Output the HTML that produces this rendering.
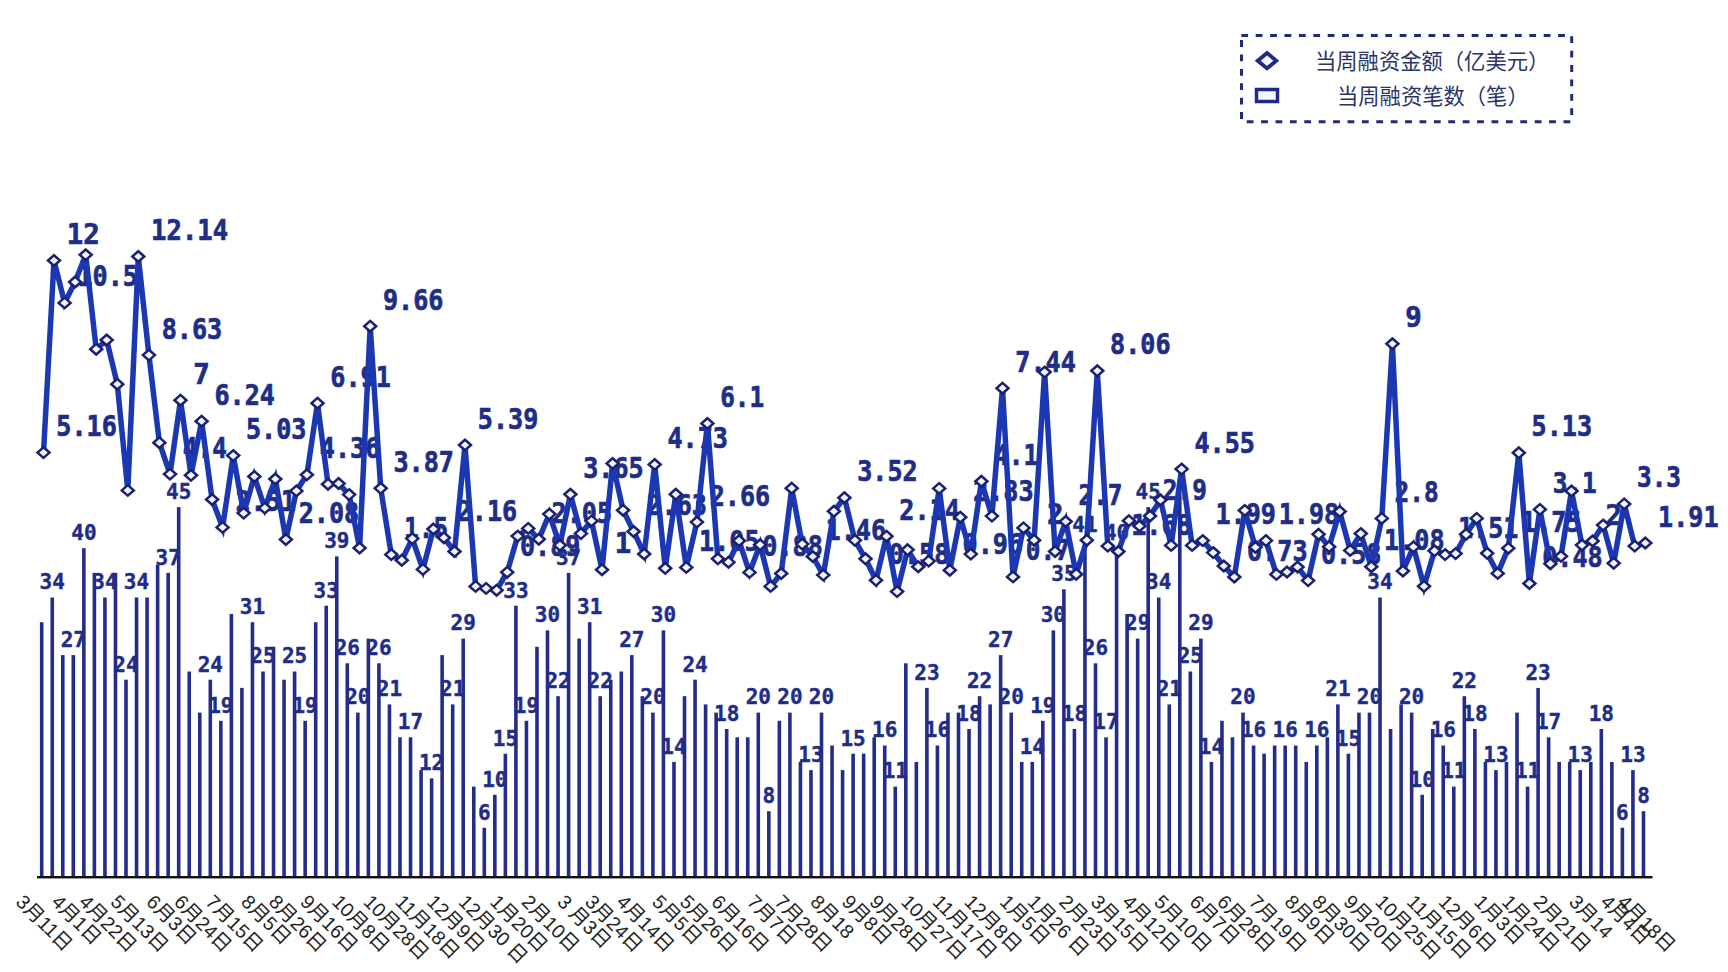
<!DOCTYPE html>
<html lang="zh-CN"><head><meta charset="utf-8"><title>当周融资金额与笔数</title>
<style>
html,body{margin:0;padding:0;background:#fff;}
body{width:1728px;height:972px;overflow:hidden;}
svg{display:block;}
.bl{font-family:"DejaVu Sans Mono","Liberation Mono",monospace;font-weight:bold;font-size:21px;fill:#1e2d88;stroke:#1e2d88;stroke-width:0.4px;text-anchor:middle;}
.ll{font-family:"DejaVu Sans Mono","Liberation Mono",monospace;font-weight:bold;font-size:28px;fill:#1e2d88;stroke:#1e2d88;stroke-width:0.7px;}
.dt{font-family:"Liberation Sans","Noto Sans CJK SC",sans-serif;font-size:19.5px;fill:#222;}
.lg{font-family:"Liberation Sans","Noto Sans CJK SC",sans-serif;font-size:21.3px;fill:#2b3468;}
</style></head><body>
<svg width="1728" height="972" viewBox="0 0 1728 972">
<rect x="0" y="0" width="1728" height="972" fill="#fff"/>
<g id="legend">
<g stroke="#1e2a7c" stroke-width="3" stroke-dasharray="6.8 7.6" fill="none"><line x1="1241.3" y1="35.5" x2="1572" y2="35.5"/><line x1="1571.7" y1="36.3" x2="1571.7" y2="122"/><line x1="1246.7" y1="121.7" x2="1572" y2="121.7"/><line x1="1241.5" y1="40.1" x2="1241.5" y2="122"/></g>
<path d="M1267 53 L1276.3 60.7 L1267 68.4 L1257.7 60.7 Z" fill="#f4f8ff" stroke="#1e2a84" stroke-width="3.8"/>
<rect x="1256.5" y="89.5" width="21" height="12" fill="#f4f8ff" stroke="#1e2a84" stroke-width="3.5"/>
<text class="lg" x="1315" y="69">当周融资金额（亿美元）</text>
<text class="lg" x="1337" y="104">当周融资笔数（笔）</text>
</g>
<g id="barlabels">
<text class="bl" x="52.2" y="589.3">34</text>
<text class="bl" x="73.3" y="646.9">27</text>
<text class="bl" x="83.9" y="540.0">40</text>
<text class="bl" x="104.9" y="589.3">34</text>
<text class="bl" x="126.0" y="671.5">24</text>
<text class="bl" x="136.5" y="589.3">34</text>
<text class="bl" x="168.2" y="564.7">37</text>
<text class="bl" x="178.7" y="498.9">45</text>
<text class="bl" x="210.3" y="671.5">24</text>
<text class="bl" x="220.8" y="712.6">19</text>
<text class="bl" x="252.5" y="614.0">31</text>
<text class="bl" x="263.0" y="663.3">25</text>
<text class="bl" x="294.6" y="663.3">25</text>
<text class="bl" x="305.1" y="712.6">19</text>
<text class="bl" x="326.2" y="597.5">33</text>
<text class="bl" x="336.8" y="548.2">39</text>
<text class="bl" x="347.3" y="655.1">26</text>
<text class="bl" x="357.8" y="704.4">20</text>
<text class="bl" x="378.9" y="655.1">26</text>
<text class="bl" x="389.5" y="696.2">21</text>
<text class="bl" x="410.5" y="729.1">17</text>
<text class="bl" x="431.6" y="770.2">12</text>
<text class="bl" x="452.7" y="696.2">21</text>
<text class="bl" x="463.2" y="630.4">29</text>
<text class="bl" x="484.3" y="819.5">6</text>
<text class="bl" x="494.8" y="786.6">10</text>
<text class="bl" x="505.4" y="745.5">15</text>
<text class="bl" x="515.9" y="597.5">33</text>
<text class="bl" x="526.4" y="712.6">19</text>
<text class="bl" x="547.5" y="622.2">30</text>
<text class="bl" x="558.1" y="688.0">22</text>
<text class="bl" x="568.6" y="564.7">37</text>
<text class="bl" x="589.7" y="614.0">31</text>
<text class="bl" x="600.2" y="688.0">22</text>
<text class="bl" x="631.8" y="646.9">27</text>
<text class="bl" x="652.9" y="704.4">20</text>
<text class="bl" x="663.4" y="622.2">30</text>
<text class="bl" x="674.0" y="753.7">14</text>
<text class="bl" x="695.1" y="671.5">24</text>
<text class="bl" x="726.7" y="720.8">18</text>
<text class="bl" x="758.3" y="704.4">20</text>
<text class="bl" x="768.8" y="803.0">8</text>
<text class="bl" x="789.9" y="704.4">20</text>
<text class="bl" x="811.0" y="761.9">13</text>
<text class="bl" x="821.5" y="704.4">20</text>
<text class="bl" x="853.1" y="745.5">15</text>
<text class="bl" x="884.7" y="737.3">16</text>
<text class="bl" x="895.3" y="778.4">11</text>
<text class="bl" x="926.9" y="679.7">23</text>
<text class="bl" x="937.4" y="737.3">16</text>
<text class="bl" x="969.0" y="720.8">18</text>
<text class="bl" x="979.6" y="688.0">22</text>
<text class="bl" x="1000.7" y="646.9">27</text>
<text class="bl" x="1011.2" y="704.4">20</text>
<text class="bl" x="1032.3" y="753.7">14</text>
<text class="bl" x="1042.8" y="712.6">19</text>
<text class="bl" x="1053.3" y="622.2">30</text>
<text class="bl" x="1063.9" y="581.1">35</text>
<text class="bl" x="1074.4" y="720.8">18</text>
<text class="bl" x="1085.0" y="531.8">41</text>
<text class="bl" x="1095.5" y="655.1">26</text>
<text class="bl" x="1106.0" y="729.1">17</text>
<text class="bl" x="1116.6" y="540.0">40</text>
<text class="bl" x="1137.7" y="630.4">29</text>
<text class="bl" x="1148.2" y="498.9">45</text>
<text class="bl" x="1158.7" y="589.3">34</text>
<text class="bl" x="1169.3" y="696.2">21</text>
<text class="bl" x="1190.3" y="663.3">25</text>
<text class="bl" x="1200.9" y="630.4">29</text>
<text class="bl" x="1211.4" y="753.7">14</text>
<text class="bl" x="1243.0" y="704.4">20</text>
<text class="bl" x="1253.6" y="737.3">16</text>
<text class="bl" x="1285.2" y="737.3">16</text>
<text class="bl" x="1316.8" y="737.3">16</text>
<text class="bl" x="1337.9" y="696.2">21</text>
<text class="bl" x="1348.4" y="745.5">15</text>
<text class="bl" x="1369.5" y="704.4">20</text>
<text class="bl" x="1380.0" y="589.3">34</text>
<text class="bl" x="1411.6" y="704.4">20</text>
<text class="bl" x="1422.2" y="786.6">10</text>
<text class="bl" x="1443.3" y="737.3">16</text>
<text class="bl" x="1453.8" y="778.4">11</text>
<text class="bl" x="1464.3" y="688.0">22</text>
<text class="bl" x="1474.9" y="720.8">18</text>
<text class="bl" x="1495.9" y="761.9">13</text>
<text class="bl" x="1527.6" y="778.4">11</text>
<text class="bl" x="1538.1" y="679.7">23</text>
<text class="bl" x="1548.6" y="729.1">17</text>
<text class="bl" x="1580.2" y="761.9">13</text>
<text class="bl" x="1601.3" y="720.8">18</text>
<text class="bl" x="1622.4" y="819.5">6</text>
<text class="bl" x="1632.9" y="761.9">13</text>
<text class="bl" x="1643.5" y="803.0">8</text>
</g>
<g id="linelabels">
<text class="ll" x="56.3" y="436.1" textLength="60.5" lengthAdjust="spacingAndGlyphs">5.16</text>
<text class="ll" x="66.8" y="244.0" textLength="33.0" lengthAdjust="spacingAndGlyphs">12</text>
<text class="ll" x="77.4" y="286.4" textLength="60.5" lengthAdjust="spacingAndGlyphs">10.5</text>
<text class="ll" x="151.1" y="240.0" textLength="77.0" lengthAdjust="spacingAndGlyphs">12.14</text>
<text class="ll" x="161.7" y="338.6" textLength="60.5" lengthAdjust="spacingAndGlyphs">8.63</text>
<text class="ll" x="193.3" y="383.7" textLength="16.5" lengthAdjust="spacingAndGlyphs">7</text>
<text class="ll" x="182.8" y="457.6" textLength="44.0" lengthAdjust="spacingAndGlyphs">4.4</text>
<text class="ll" x="214.4" y="404.7" textLength="60.5" lengthAdjust="spacingAndGlyphs">6.24</text>
<text class="ll" x="246.0" y="439.1" textLength="60.5" lengthAdjust="spacingAndGlyphs">5.03</text>
<text class="ll" x="235.4" y="510.9" textLength="60.5" lengthAdjust="spacingAndGlyphs">2.51</text>
<text class="ll" x="319.8" y="458.3" textLength="60.5" lengthAdjust="spacingAndGlyphs">4.36</text>
<text class="ll" x="330.3" y="386.7" textLength="60.5" lengthAdjust="spacingAndGlyphs">6.91</text>
<text class="ll" x="298.7" y="523.0" textLength="60.5" lengthAdjust="spacingAndGlyphs">2.08</text>
<text class="ll" x="383.0" y="309.7" textLength="60.5" lengthAdjust="spacingAndGlyphs">9.66</text>
<text class="ll" x="393.5" y="471.8" textLength="60.5" lengthAdjust="spacingAndGlyphs">3.87</text>
<text class="ll" x="404.1" y="538.1" textLength="44.0" lengthAdjust="spacingAndGlyphs">1.5</text>
<text class="ll" x="477.8" y="428.5" textLength="60.5" lengthAdjust="spacingAndGlyphs">5.39</text>
<text class="ll" x="456.7" y="521.2" textLength="60.5" lengthAdjust="spacingAndGlyphs">2.16</text>
<text class="ll" x="520.0" y="555.7" textLength="60.5" lengthAdjust="spacingAndGlyphs">0.89</text>
<text class="ll" x="551.6" y="522.7" textLength="60.5" lengthAdjust="spacingAndGlyphs">2.05</text>
<text class="ll" x="583.2" y="477.8" textLength="60.5" lengthAdjust="spacingAndGlyphs">3.65</text>
<text class="ll" x="614.8" y="553.2" textLength="16.5" lengthAdjust="spacingAndGlyphs">1</text>
<text class="ll" x="667.5" y="448.0" textLength="60.5" lengthAdjust="spacingAndGlyphs">4.73</text>
<text class="ll" x="646.4" y="515.0" textLength="60.5" lengthAdjust="spacingAndGlyphs">2.63</text>
<text class="ll" x="720.2" y="407.0" textLength="44.0" lengthAdjust="spacingAndGlyphs">6.1</text>
<text class="ll" x="709.7" y="505.6" textLength="60.5" lengthAdjust="spacingAndGlyphs">2.66</text>
<text class="ll" x="699.1" y="550.9" textLength="60.5" lengthAdjust="spacingAndGlyphs">1.05</text>
<text class="ll" x="762.3" y="555.9" textLength="60.5" lengthAdjust="spacingAndGlyphs">0.88</text>
<text class="ll" x="857.2" y="481.2" textLength="60.5" lengthAdjust="spacingAndGlyphs">3.52</text>
<text class="ll" x="825.6" y="540.0" textLength="60.5" lengthAdjust="spacingAndGlyphs">1.46</text>
<text class="ll" x="899.3" y="519.7" textLength="60.5" lengthAdjust="spacingAndGlyphs">2.14</text>
<text class="ll" x="888.8" y="563.8" textLength="60.5" lengthAdjust="spacingAndGlyphs">0.58</text>
<text class="ll" x="994.2" y="464.8" textLength="44.0" lengthAdjust="spacingAndGlyphs">4.1</text>
<text class="ll" x="973.1" y="500.7" textLength="60.5" lengthAdjust="spacingAndGlyphs">2.83</text>
<text class="ll" x="962.6" y="553.7" textLength="60.5" lengthAdjust="spacingAndGlyphs">0.96</text>
<text class="ll" x="1015.3" y="371.7" textLength="60.5" lengthAdjust="spacingAndGlyphs">7.44</text>
<text class="ll" x="1025.8" y="560.4" textLength="44.0" lengthAdjust="spacingAndGlyphs">0.7</text>
<text class="ll" x="1046.9" y="523.7" textLength="16.5" lengthAdjust="spacingAndGlyphs">2</text>
<text class="ll" x="1078.5" y="505.0" textLength="44.0" lengthAdjust="spacingAndGlyphs">2.7</text>
<text class="ll" x="1110.1" y="354.3" textLength="60.5" lengthAdjust="spacingAndGlyphs">8.06</text>
<text class="ll" x="1194.4" y="452.6" textLength="60.5" lengthAdjust="spacingAndGlyphs">4.55</text>
<text class="ll" x="1162.8" y="499.5" textLength="44.0" lengthAdjust="spacingAndGlyphs">2.9</text>
<text class="ll" x="1131.2" y="535.0" textLength="60.5" lengthAdjust="spacingAndGlyphs">1.68</text>
<text class="ll" x="1215.5" y="524.1" textLength="60.5" lengthAdjust="spacingAndGlyphs">1.99</text>
<text class="ll" x="1278.7" y="524.1" textLength="60.5" lengthAdjust="spacingAndGlyphs">1.98</text>
<text class="ll" x="1247.1" y="560.5" textLength="60.5" lengthAdjust="spacingAndGlyphs">0.73</text>
<text class="ll" x="1320.9" y="564.1" textLength="60.5" lengthAdjust="spacingAndGlyphs">0.58</text>
<text class="ll" x="1405.2" y="327.3" textLength="16.5" lengthAdjust="spacingAndGlyphs">9</text>
<text class="ll" x="1394.6" y="501.9" textLength="44.0" lengthAdjust="spacingAndGlyphs">2.8</text>
<text class="ll" x="1384.1" y="550.2" textLength="60.5" lengthAdjust="spacingAndGlyphs">1.08</text>
<text class="ll" x="1457.9" y="538.1" textLength="60.5" lengthAdjust="spacingAndGlyphs">1.51</text>
<text class="ll" x="1531.6" y="436.3" textLength="60.5" lengthAdjust="spacingAndGlyphs">5.13</text>
<text class="ll" x="1552.7" y="492.9" textLength="44.0" lengthAdjust="spacingAndGlyphs">3.1</text>
<text class="ll" x="1521.1" y="531.7" textLength="60.5" lengthAdjust="spacingAndGlyphs">1.75</text>
<text class="ll" x="1542.2" y="567.0" textLength="60.5" lengthAdjust="spacingAndGlyphs">0.48</text>
<text class="ll" x="1605.4" y="524.5" textLength="16.5" lengthAdjust="spacingAndGlyphs">2</text>
<text class="ll" x="1637.0" y="487.4" textLength="44.0" lengthAdjust="spacingAndGlyphs">3.3</text>
<text class="ll" x="1658.1" y="526.5" textLength="60.5" lengthAdjust="spacingAndGlyphs">1.91</text>
</g>
<g id="bars" fill="#232c88">
<rect x="39.90" y="622.2" width="3.6" height="254.8"/>
<rect x="50.44" y="597.5" width="3.6" height="279.5"/>
<rect x="60.98" y="655.1" width="3.6" height="221.9"/>
<rect x="71.51" y="655.1" width="3.6" height="221.9"/>
<rect x="82.05" y="548.2" width="3.6" height="328.8"/>
<rect x="92.59" y="572.9" width="3.6" height="304.1"/>
<rect x="103.13" y="597.5" width="3.6" height="279.5"/>
<rect x="113.67" y="572.9" width="3.6" height="304.1"/>
<rect x="124.20" y="679.7" width="3.6" height="197.3"/>
<rect x="134.74" y="597.5" width="3.6" height="279.5"/>
<rect x="145.28" y="597.5" width="3.6" height="279.5"/>
<rect x="155.82" y="564.6" width="3.6" height="312.4"/>
<rect x="166.36" y="572.9" width="3.6" height="304.1"/>
<rect x="176.89" y="507.1" width="3.6" height="369.9"/>
<rect x="187.43" y="671.5" width="3.6" height="205.5"/>
<rect x="197.97" y="712.6" width="3.6" height="164.4"/>
<rect x="208.51" y="679.7" width="3.6" height="197.3"/>
<rect x="219.05" y="720.8" width="3.6" height="156.2"/>
<rect x="229.58" y="614.0" width="3.6" height="263.0"/>
<rect x="240.12" y="687.9" width="3.6" height="189.1"/>
<rect x="250.66" y="622.2" width="3.6" height="254.8"/>
<rect x="261.20" y="671.5" width="3.6" height="205.5"/>
<rect x="271.74" y="646.8" width="3.6" height="230.2"/>
<rect x="282.27" y="679.7" width="3.6" height="197.3"/>
<rect x="292.81" y="671.5" width="3.6" height="205.5"/>
<rect x="303.35" y="720.8" width="3.6" height="156.2"/>
<rect x="313.89" y="622.2" width="3.6" height="254.8"/>
<rect x="324.43" y="605.7" width="3.6" height="271.3"/>
<rect x="334.96" y="556.4" width="3.6" height="320.6"/>
<rect x="345.50" y="663.3" width="3.6" height="213.7"/>
<rect x="356.04" y="712.6" width="3.6" height="164.4"/>
<rect x="366.58" y="638.6" width="3.6" height="238.4"/>
<rect x="377.12" y="663.3" width="3.6" height="213.7"/>
<rect x="387.65" y="704.4" width="3.6" height="172.6"/>
<rect x="398.19" y="737.3" width="3.6" height="139.7"/>
<rect x="408.73" y="737.3" width="3.6" height="139.7"/>
<rect x="419.27" y="770.1" width="3.6" height="106.9"/>
<rect x="429.81" y="778.4" width="3.6" height="98.6"/>
<rect x="440.34" y="655.1" width="3.6" height="221.9"/>
<rect x="450.88" y="704.4" width="3.6" height="172.6"/>
<rect x="461.42" y="638.6" width="3.6" height="238.4"/>
<rect x="471.96" y="786.6" width="3.6" height="90.4"/>
<rect x="482.50" y="827.7" width="3.6" height="49.3"/>
<rect x="493.03" y="794.8" width="3.6" height="82.2"/>
<rect x="503.57" y="753.7" width="3.6" height="123.3"/>
<rect x="514.11" y="605.7" width="3.6" height="271.3"/>
<rect x="524.65" y="720.8" width="3.6" height="156.2"/>
<rect x="535.19" y="646.8" width="3.6" height="230.2"/>
<rect x="545.72" y="630.4" width="3.6" height="246.6"/>
<rect x="556.26" y="696.2" width="3.6" height="180.8"/>
<rect x="566.80" y="572.9" width="3.6" height="304.1"/>
<rect x="577.34" y="638.6" width="3.6" height="238.4"/>
<rect x="587.88" y="622.2" width="3.6" height="254.8"/>
<rect x="598.41" y="696.2" width="3.6" height="180.8"/>
<rect x="608.95" y="679.7" width="3.6" height="197.3"/>
<rect x="619.49" y="671.5" width="3.6" height="205.5"/>
<rect x="630.03" y="655.1" width="3.6" height="221.9"/>
<rect x="640.57" y="696.2" width="3.6" height="180.8"/>
<rect x="651.10" y="712.6" width="3.6" height="164.4"/>
<rect x="661.64" y="630.4" width="3.6" height="246.6"/>
<rect x="672.18" y="761.9" width="3.6" height="115.1"/>
<rect x="682.72" y="696.2" width="3.6" height="180.8"/>
<rect x="693.26" y="679.7" width="3.6" height="197.3"/>
<rect x="703.79" y="704.4" width="3.6" height="172.6"/>
<rect x="714.33" y="712.6" width="3.6" height="164.4"/>
<rect x="724.87" y="729.0" width="3.6" height="148.0"/>
<rect x="735.41" y="737.3" width="3.6" height="139.7"/>
<rect x="745.95" y="737.3" width="3.6" height="139.7"/>
<rect x="756.48" y="712.6" width="3.6" height="164.4"/>
<rect x="767.02" y="811.2" width="3.6" height="65.8"/>
<rect x="777.56" y="720.8" width="3.6" height="156.2"/>
<rect x="788.10" y="712.6" width="3.6" height="164.4"/>
<rect x="798.64" y="761.9" width="3.6" height="115.1"/>
<rect x="809.17" y="770.1" width="3.6" height="106.9"/>
<rect x="819.71" y="712.6" width="3.6" height="164.4"/>
<rect x="830.25" y="745.5" width="3.6" height="131.5"/>
<rect x="840.79" y="770.1" width="3.6" height="106.9"/>
<rect x="851.33" y="753.7" width="3.6" height="123.3"/>
<rect x="861.86" y="753.7" width="3.6" height="123.3"/>
<rect x="872.40" y="737.3" width="3.6" height="139.7"/>
<rect x="882.94" y="745.5" width="3.6" height="131.5"/>
<rect x="893.48" y="786.6" width="3.6" height="90.4"/>
<rect x="904.02" y="663.3" width="3.6" height="213.7"/>
<rect x="914.55" y="761.9" width="3.6" height="115.1"/>
<rect x="925.09" y="687.9" width="3.6" height="189.1"/>
<rect x="935.63" y="745.5" width="3.6" height="131.5"/>
<rect x="946.17" y="712.6" width="3.6" height="164.4"/>
<rect x="956.71" y="712.6" width="3.6" height="164.4"/>
<rect x="967.24" y="729.0" width="3.6" height="148.0"/>
<rect x="977.78" y="696.2" width="3.6" height="180.8"/>
<rect x="988.32" y="704.4" width="3.6" height="172.6"/>
<rect x="998.86" y="655.1" width="3.6" height="221.9"/>
<rect x="1009.40" y="712.6" width="3.6" height="164.4"/>
<rect x="1019.93" y="761.9" width="3.6" height="115.1"/>
<rect x="1030.47" y="761.9" width="3.6" height="115.1"/>
<rect x="1041.01" y="720.8" width="3.6" height="156.2"/>
<rect x="1051.55" y="630.4" width="3.6" height="246.6"/>
<rect x="1062.09" y="589.3" width="3.6" height="287.7"/>
<rect x="1072.62" y="729.0" width="3.6" height="148.0"/>
<rect x="1083.16" y="540.0" width="3.6" height="337.0"/>
<rect x="1093.70" y="663.3" width="3.6" height="213.7"/>
<rect x="1104.24" y="737.3" width="3.6" height="139.7"/>
<rect x="1114.78" y="548.2" width="3.6" height="328.8"/>
<rect x="1125.31" y="614.0" width="3.6" height="263.0"/>
<rect x="1135.85" y="638.6" width="3.6" height="238.4"/>
<rect x="1146.39" y="507.1" width="3.6" height="369.9"/>
<rect x="1156.93" y="597.5" width="3.6" height="279.5"/>
<rect x="1167.47" y="704.4" width="3.6" height="172.6"/>
<rect x="1178.00" y="482.4" width="3.6" height="394.6"/>
<rect x="1188.54" y="671.5" width="3.6" height="205.5"/>
<rect x="1199.08" y="638.6" width="3.6" height="238.4"/>
<rect x="1209.62" y="761.9" width="3.6" height="115.1"/>
<rect x="1220.16" y="720.8" width="3.6" height="156.2"/>
<rect x="1230.69" y="737.3" width="3.6" height="139.7"/>
<rect x="1241.23" y="712.6" width="3.6" height="164.4"/>
<rect x="1251.77" y="745.5" width="3.6" height="131.5"/>
<rect x="1262.31" y="753.7" width="3.6" height="123.3"/>
<rect x="1272.85" y="745.5" width="3.6" height="131.5"/>
<rect x="1283.38" y="745.5" width="3.6" height="131.5"/>
<rect x="1293.92" y="745.5" width="3.6" height="131.5"/>
<rect x="1304.46" y="761.9" width="3.6" height="115.1"/>
<rect x="1315.00" y="745.5" width="3.6" height="131.5"/>
<rect x="1325.54" y="737.3" width="3.6" height="139.7"/>
<rect x="1336.07" y="704.4" width="3.6" height="172.6"/>
<rect x="1346.61" y="753.7" width="3.6" height="123.3"/>
<rect x="1357.15" y="712.6" width="3.6" height="164.4"/>
<rect x="1367.69" y="712.6" width="3.6" height="164.4"/>
<rect x="1378.23" y="597.5" width="3.6" height="279.5"/>
<rect x="1388.76" y="729.0" width="3.6" height="148.0"/>
<rect x="1399.30" y="704.4" width="3.6" height="172.6"/>
<rect x="1409.84" y="712.6" width="3.6" height="164.4"/>
<rect x="1420.38" y="794.8" width="3.6" height="82.2"/>
<rect x="1430.92" y="729.0" width="3.6" height="148.0"/>
<rect x="1441.45" y="745.5" width="3.6" height="131.5"/>
<rect x="1451.99" y="786.6" width="3.6" height="90.4"/>
<rect x="1462.53" y="696.2" width="3.6" height="180.8"/>
<rect x="1473.07" y="729.0" width="3.6" height="148.0"/>
<rect x="1483.61" y="761.9" width="3.6" height="115.1"/>
<rect x="1494.14" y="770.1" width="3.6" height="106.9"/>
<rect x="1504.68" y="761.9" width="3.6" height="115.1"/>
<rect x="1515.22" y="712.6" width="3.6" height="164.4"/>
<rect x="1525.76" y="786.6" width="3.6" height="90.4"/>
<rect x="1536.30" y="687.9" width="3.6" height="189.1"/>
<rect x="1546.83" y="737.3" width="3.6" height="139.7"/>
<rect x="1557.37" y="761.9" width="3.6" height="115.1"/>
<rect x="1567.91" y="761.9" width="3.6" height="115.1"/>
<rect x="1578.45" y="770.1" width="3.6" height="106.9"/>
<rect x="1588.99" y="761.9" width="3.6" height="115.1"/>
<rect x="1599.52" y="729.0" width="3.6" height="148.0"/>
<rect x="1610.06" y="761.9" width="3.6" height="115.1"/>
<rect x="1620.60" y="827.7" width="3.6" height="49.3"/>
<rect x="1631.14" y="770.1" width="3.6" height="106.9"/>
<rect x="1641.68" y="811.2" width="3.6" height="65.8"/>
</g>
<rect x="37" y="876" width="1615.5" height="2.4" fill="#111"/>
<polyline points="43.5,452.6 54.0,260.5 64.6,302.9 75.1,282.0 85.7,254.8 96.2,349.2 106.7,340.0 117.3,384.2 127.8,490.4 138.3,256.5 148.9,355.1 159.4,442.7 170.0,474.1 180.5,400.2 191.0,475.3 201.6,421.2 212.1,499.5 222.6,527.4 233.2,455.6 243.7,513.1 254.3,476.5 264.8,508.1 275.3,479.0 285.9,539.5 296.4,490.9 306.9,474.8 317.5,403.2 328.0,484.2 338.6,483.5 349.1,494.6 359.6,548.0 370.2,326.2 380.7,488.3 391.3,554.6 401.8,560.2 412.3,538.6 422.9,569.4 433.4,529.0 443.9,537.7 454.5,551.5 465.0,445.0 475.6,586.4 486.1,588.4 496.6,590.2 507.2,572.2 517.7,536.1 528.2,528.4 538.8,539.2 549.3,514.1 559.9,545.3 570.4,494.3 580.9,533.6 591.5,520.9 602.0,569.7 612.6,463.5 623.1,510.2 633.6,531.5 644.2,554.0 654.7,464.5 665.2,568.3 675.8,494.3 686.3,567.4 696.9,522.1 707.4,423.5 717.9,558.8 728.5,562.2 739.0,540.7 749.5,572.4 760.1,544.8 770.6,586.4 781.2,573.5 791.7,488.2 802.2,544.1 812.8,556.5 823.3,575.1 833.9,511.3 844.4,497.7 854.9,540.3 865.5,558.8 876.0,580.3 886.5,536.2 897.1,591.6 907.6,549.8 918.2,566.7 928.7,561.1 939.2,488.4 949.8,570.2 960.3,517.2 970.8,554.1 981.4,481.3 991.9,516.1 1002.5,388.2 1013.0,576.9 1023.5,527.9 1034.1,540.2 1044.6,372.1 1055.1,551.5 1065.7,521.5 1076.2,574.2 1086.8,540.2 1097.3,370.8 1107.8,546.1 1118.4,551.5 1128.9,520.7 1139.5,526.0 1150.0,516.0 1160.5,500.0 1171.1,545.4 1181.6,469.1 1192.1,545.4 1202.7,540.6 1213.2,552.6 1223.8,566.0 1234.3,577.0 1244.8,510.4 1255.4,547.3 1265.9,540.6 1276.4,574.4 1287.0,572.0 1297.5,567.0 1308.1,580.6 1318.6,534.3 1329.1,546.7 1339.7,511.5 1350.2,550.4 1360.8,533.6 1371.3,566.7 1381.8,518.4 1392.4,343.8 1402.9,571.0 1413.4,546.9 1424.0,586.3 1434.5,550.8 1445.1,554.6 1455.6,553.6 1466.1,534.3 1476.7,518.4 1487.2,553.3 1497.7,573.4 1508.3,548.2 1518.8,452.8 1529.4,583.5 1539.9,509.4 1550.4,563.7 1561.0,556.3 1571.5,491.0 1582.0,545.1 1592.6,541.0 1603.1,525.1 1613.7,563.2 1624.2,503.9 1634.7,546.1 1645.3,543.0" fill="none" stroke="#1b38b2" stroke-width="5.5" stroke-linejoin="miter" stroke-miterlimit="4"/>
<g id="markers" fill="#f2f7ff" stroke="#1b2170" stroke-width="2.5">
<path d="M43.5 447.3l6.0 5.3l-6.0 5.3l-6.0 -5.3z"/>
<path d="M54.0 255.2l6.0 5.3l-6.0 5.3l-6.0 -5.3z"/>
<path d="M64.6 297.6l6.0 5.3l-6.0 5.3l-6.0 -5.3z"/>
<path d="M75.1 276.7l6.0 5.3l-6.0 5.3l-6.0 -5.3z"/>
<path d="M85.7 249.5l6.0 5.3l-6.0 5.3l-6.0 -5.3z"/>
<path d="M96.2 343.9l6.0 5.3l-6.0 5.3l-6.0 -5.3z"/>
<path d="M106.7 334.7l6.0 5.3l-6.0 5.3l-6.0 -5.3z"/>
<path d="M117.3 378.9l6.0 5.3l-6.0 5.3l-6.0 -5.3z"/>
<path d="M127.8 485.1l6.0 5.3l-6.0 5.3l-6.0 -5.3z"/>
<path d="M138.3 251.2l6.0 5.3l-6.0 5.3l-6.0 -5.3z"/>
<path d="M148.9 349.8l6.0 5.3l-6.0 5.3l-6.0 -5.3z"/>
<path d="M159.4 437.4l6.0 5.3l-6.0 5.3l-6.0 -5.3z"/>
<path d="M170.0 468.8l6.0 5.3l-6.0 5.3l-6.0 -5.3z"/>
<path d="M180.5 394.9l6.0 5.3l-6.0 5.3l-6.0 -5.3z"/>
<path d="M191.0 470.0l6.0 5.3l-6.0 5.3l-6.0 -5.3z"/>
<path d="M201.6 415.9l6.0 5.3l-6.0 5.3l-6.0 -5.3z"/>
<path d="M212.1 494.2l6.0 5.3l-6.0 5.3l-6.0 -5.3z"/>
<path d="M222.6 522.1l6.0 5.3l-6.0 5.3l-6.0 -5.3z"/>
<path d="M233.2 450.3l6.0 5.3l-6.0 5.3l-6.0 -5.3z"/>
<path d="M243.7 507.8l6.0 5.3l-6.0 5.3l-6.0 -5.3z"/>
<path d="M254.3 471.2l6.0 5.3l-6.0 5.3l-6.0 -5.3z"/>
<path d="M264.8 502.8l6.0 5.3l-6.0 5.3l-6.0 -5.3z"/>
<path d="M275.3 473.7l6.0 5.3l-6.0 5.3l-6.0 -5.3z"/>
<path d="M285.9 534.2l6.0 5.3l-6.0 5.3l-6.0 -5.3z"/>
<path d="M296.4 485.6l6.0 5.3l-6.0 5.3l-6.0 -5.3z"/>
<path d="M306.9 469.5l6.0 5.3l-6.0 5.3l-6.0 -5.3z"/>
<path d="M317.5 397.9l6.0 5.3l-6.0 5.3l-6.0 -5.3z"/>
<path d="M328.0 478.9l6.0 5.3l-6.0 5.3l-6.0 -5.3z"/>
<path d="M338.6 478.2l6.0 5.3l-6.0 5.3l-6.0 -5.3z"/>
<path d="M349.1 489.3l6.0 5.3l-6.0 5.3l-6.0 -5.3z"/>
<path d="M359.6 542.7l6.0 5.3l-6.0 5.3l-6.0 -5.3z"/>
<path d="M370.2 320.9l6.0 5.3l-6.0 5.3l-6.0 -5.3z"/>
<path d="M380.7 483.0l6.0 5.3l-6.0 5.3l-6.0 -5.3z"/>
<path d="M391.3 549.3l6.0 5.3l-6.0 5.3l-6.0 -5.3z"/>
<path d="M401.8 554.9l6.0 5.3l-6.0 5.3l-6.0 -5.3z"/>
<path d="M412.3 533.3l6.0 5.3l-6.0 5.3l-6.0 -5.3z"/>
<path d="M422.9 564.1l6.0 5.3l-6.0 5.3l-6.0 -5.3z"/>
<path d="M433.4 523.7l6.0 5.3l-6.0 5.3l-6.0 -5.3z"/>
<path d="M443.9 532.4l6.0 5.3l-6.0 5.3l-6.0 -5.3z"/>
<path d="M454.5 546.2l6.0 5.3l-6.0 5.3l-6.0 -5.3z"/>
<path d="M465.0 439.7l6.0 5.3l-6.0 5.3l-6.0 -5.3z"/>
<path d="M475.6 581.1l6.0 5.3l-6.0 5.3l-6.0 -5.3z"/>
<path d="M486.1 583.1l6.0 5.3l-6.0 5.3l-6.0 -5.3z"/>
<path d="M496.6 584.9l6.0 5.3l-6.0 5.3l-6.0 -5.3z"/>
<path d="M507.2 566.9l6.0 5.3l-6.0 5.3l-6.0 -5.3z"/>
<path d="M517.7 530.8l6.0 5.3l-6.0 5.3l-6.0 -5.3z"/>
<path d="M528.2 523.1l6.0 5.3l-6.0 5.3l-6.0 -5.3z"/>
<path d="M538.8 533.9l6.0 5.3l-6.0 5.3l-6.0 -5.3z"/>
<path d="M549.3 508.8l6.0 5.3l-6.0 5.3l-6.0 -5.3z"/>
<path d="M559.9 540.0l6.0 5.3l-6.0 5.3l-6.0 -5.3z"/>
<path d="M570.4 489.0l6.0 5.3l-6.0 5.3l-6.0 -5.3z"/>
<path d="M580.9 528.3l6.0 5.3l-6.0 5.3l-6.0 -5.3z"/>
<path d="M591.5 515.6l6.0 5.3l-6.0 5.3l-6.0 -5.3z"/>
<path d="M602.0 564.4l6.0 5.3l-6.0 5.3l-6.0 -5.3z"/>
<path d="M612.6 458.2l6.0 5.3l-6.0 5.3l-6.0 -5.3z"/>
<path d="M623.1 504.9l6.0 5.3l-6.0 5.3l-6.0 -5.3z"/>
<path d="M633.6 526.2l6.0 5.3l-6.0 5.3l-6.0 -5.3z"/>
<path d="M644.2 548.7l6.0 5.3l-6.0 5.3l-6.0 -5.3z"/>
<path d="M654.7 459.2l6.0 5.3l-6.0 5.3l-6.0 -5.3z"/>
<path d="M665.2 563.0l6.0 5.3l-6.0 5.3l-6.0 -5.3z"/>
<path d="M675.8 489.0l6.0 5.3l-6.0 5.3l-6.0 -5.3z"/>
<path d="M686.3 562.1l6.0 5.3l-6.0 5.3l-6.0 -5.3z"/>
<path d="M696.9 516.8l6.0 5.3l-6.0 5.3l-6.0 -5.3z"/>
<path d="M707.4 418.2l6.0 5.3l-6.0 5.3l-6.0 -5.3z"/>
<path d="M717.9 553.5l6.0 5.3l-6.0 5.3l-6.0 -5.3z"/>
<path d="M728.5 556.9l6.0 5.3l-6.0 5.3l-6.0 -5.3z"/>
<path d="M739.0 535.4l6.0 5.3l-6.0 5.3l-6.0 -5.3z"/>
<path d="M749.5 567.1l6.0 5.3l-6.0 5.3l-6.0 -5.3z"/>
<path d="M760.1 539.5l6.0 5.3l-6.0 5.3l-6.0 -5.3z"/>
<path d="M770.6 581.1l6.0 5.3l-6.0 5.3l-6.0 -5.3z"/>
<path d="M781.2 568.2l6.0 5.3l-6.0 5.3l-6.0 -5.3z"/>
<path d="M791.7 482.9l6.0 5.3l-6.0 5.3l-6.0 -5.3z"/>
<path d="M802.2 538.8l6.0 5.3l-6.0 5.3l-6.0 -5.3z"/>
<path d="M812.8 551.2l6.0 5.3l-6.0 5.3l-6.0 -5.3z"/>
<path d="M823.3 569.8l6.0 5.3l-6.0 5.3l-6.0 -5.3z"/>
<path d="M833.9 506.0l6.0 5.3l-6.0 5.3l-6.0 -5.3z"/>
<path d="M844.4 492.4l6.0 5.3l-6.0 5.3l-6.0 -5.3z"/>
<path d="M854.9 535.0l6.0 5.3l-6.0 5.3l-6.0 -5.3z"/>
<path d="M865.5 553.5l6.0 5.3l-6.0 5.3l-6.0 -5.3z"/>
<path d="M876.0 575.0l6.0 5.3l-6.0 5.3l-6.0 -5.3z"/>
<path d="M886.5 530.9l6.0 5.3l-6.0 5.3l-6.0 -5.3z"/>
<path d="M897.1 586.3l6.0 5.3l-6.0 5.3l-6.0 -5.3z"/>
<path d="M907.6 544.5l6.0 5.3l-6.0 5.3l-6.0 -5.3z"/>
<path d="M918.2 561.4l6.0 5.3l-6.0 5.3l-6.0 -5.3z"/>
<path d="M928.7 555.8l6.0 5.3l-6.0 5.3l-6.0 -5.3z"/>
<path d="M939.2 483.1l6.0 5.3l-6.0 5.3l-6.0 -5.3z"/>
<path d="M949.8 564.9l6.0 5.3l-6.0 5.3l-6.0 -5.3z"/>
<path d="M960.3 511.9l6.0 5.3l-6.0 5.3l-6.0 -5.3z"/>
<path d="M970.8 548.8l6.0 5.3l-6.0 5.3l-6.0 -5.3z"/>
<path d="M981.4 476.0l6.0 5.3l-6.0 5.3l-6.0 -5.3z"/>
<path d="M991.9 510.8l6.0 5.3l-6.0 5.3l-6.0 -5.3z"/>
<path d="M1002.5 382.9l6.0 5.3l-6.0 5.3l-6.0 -5.3z"/>
<path d="M1013.0 571.6l6.0 5.3l-6.0 5.3l-6.0 -5.3z"/>
<path d="M1023.5 522.6l6.0 5.3l-6.0 5.3l-6.0 -5.3z"/>
<path d="M1034.1 534.9l6.0 5.3l-6.0 5.3l-6.0 -5.3z"/>
<path d="M1044.6 366.8l6.0 5.3l-6.0 5.3l-6.0 -5.3z"/>
<path d="M1055.1 546.2l6.0 5.3l-6.0 5.3l-6.0 -5.3z"/>
<path d="M1065.7 516.2l6.0 5.3l-6.0 5.3l-6.0 -5.3z"/>
<path d="M1076.2 568.9l6.0 5.3l-6.0 5.3l-6.0 -5.3z"/>
<path d="M1086.8 534.9l6.0 5.3l-6.0 5.3l-6.0 -5.3z"/>
<path d="M1097.3 365.5l6.0 5.3l-6.0 5.3l-6.0 -5.3z"/>
<path d="M1107.8 540.8l6.0 5.3l-6.0 5.3l-6.0 -5.3z"/>
<path d="M1118.4 546.2l6.0 5.3l-6.0 5.3l-6.0 -5.3z"/>
<path d="M1128.9 515.4l6.0 5.3l-6.0 5.3l-6.0 -5.3z"/>
<path d="M1139.5 520.7l6.0 5.3l-6.0 5.3l-6.0 -5.3z"/>
<path d="M1150.0 510.7l6.0 5.3l-6.0 5.3l-6.0 -5.3z"/>
<path d="M1160.5 494.7l6.0 5.3l-6.0 5.3l-6.0 -5.3z"/>
<path d="M1171.1 540.1l6.0 5.3l-6.0 5.3l-6.0 -5.3z"/>
<path d="M1181.6 463.8l6.0 5.3l-6.0 5.3l-6.0 -5.3z"/>
<path d="M1192.1 540.1l6.0 5.3l-6.0 5.3l-6.0 -5.3z"/>
<path d="M1202.7 535.3l6.0 5.3l-6.0 5.3l-6.0 -5.3z"/>
<path d="M1213.2 547.3l6.0 5.3l-6.0 5.3l-6.0 -5.3z"/>
<path d="M1223.8 560.7l6.0 5.3l-6.0 5.3l-6.0 -5.3z"/>
<path d="M1234.3 571.7l6.0 5.3l-6.0 5.3l-6.0 -5.3z"/>
<path d="M1244.8 505.1l6.0 5.3l-6.0 5.3l-6.0 -5.3z"/>
<path d="M1255.4 542.0l6.0 5.3l-6.0 5.3l-6.0 -5.3z"/>
<path d="M1265.9 535.3l6.0 5.3l-6.0 5.3l-6.0 -5.3z"/>
<path d="M1276.4 569.1l6.0 5.3l-6.0 5.3l-6.0 -5.3z"/>
<path d="M1287.0 566.7l6.0 5.3l-6.0 5.3l-6.0 -5.3z"/>
<path d="M1297.5 561.7l6.0 5.3l-6.0 5.3l-6.0 -5.3z"/>
<path d="M1308.1 575.3l6.0 5.3l-6.0 5.3l-6.0 -5.3z"/>
<path d="M1318.6 529.0l6.0 5.3l-6.0 5.3l-6.0 -5.3z"/>
<path d="M1329.1 541.4l6.0 5.3l-6.0 5.3l-6.0 -5.3z"/>
<path d="M1339.7 506.2l6.0 5.3l-6.0 5.3l-6.0 -5.3z"/>
<path d="M1350.2 545.1l6.0 5.3l-6.0 5.3l-6.0 -5.3z"/>
<path d="M1360.8 528.3l6.0 5.3l-6.0 5.3l-6.0 -5.3z"/>
<path d="M1371.3 561.4l6.0 5.3l-6.0 5.3l-6.0 -5.3z"/>
<path d="M1381.8 513.1l6.0 5.3l-6.0 5.3l-6.0 -5.3z"/>
<path d="M1392.4 338.5l6.0 5.3l-6.0 5.3l-6.0 -5.3z"/>
<path d="M1402.9 565.7l6.0 5.3l-6.0 5.3l-6.0 -5.3z"/>
<path d="M1413.4 541.6l6.0 5.3l-6.0 5.3l-6.0 -5.3z"/>
<path d="M1424.0 581.0l6.0 5.3l-6.0 5.3l-6.0 -5.3z"/>
<path d="M1434.5 545.5l6.0 5.3l-6.0 5.3l-6.0 -5.3z"/>
<path d="M1445.1 549.3l6.0 5.3l-6.0 5.3l-6.0 -5.3z"/>
<path d="M1455.6 548.3l6.0 5.3l-6.0 5.3l-6.0 -5.3z"/>
<path d="M1466.1 529.0l6.0 5.3l-6.0 5.3l-6.0 -5.3z"/>
<path d="M1476.7 513.1l6.0 5.3l-6.0 5.3l-6.0 -5.3z"/>
<path d="M1487.2 548.0l6.0 5.3l-6.0 5.3l-6.0 -5.3z"/>
<path d="M1497.7 568.1l6.0 5.3l-6.0 5.3l-6.0 -5.3z"/>
<path d="M1508.3 542.9l6.0 5.3l-6.0 5.3l-6.0 -5.3z"/>
<path d="M1518.8 447.5l6.0 5.3l-6.0 5.3l-6.0 -5.3z"/>
<path d="M1529.4 578.2l6.0 5.3l-6.0 5.3l-6.0 -5.3z"/>
<path d="M1539.9 504.1l6.0 5.3l-6.0 5.3l-6.0 -5.3z"/>
<path d="M1550.4 558.4l6.0 5.3l-6.0 5.3l-6.0 -5.3z"/>
<path d="M1561.0 551.0l6.0 5.3l-6.0 5.3l-6.0 -5.3z"/>
<path d="M1571.5 485.7l6.0 5.3l-6.0 5.3l-6.0 -5.3z"/>
<path d="M1582.0 539.8l6.0 5.3l-6.0 5.3l-6.0 -5.3z"/>
<path d="M1592.6 535.7l6.0 5.3l-6.0 5.3l-6.0 -5.3z"/>
<path d="M1603.1 519.8l6.0 5.3l-6.0 5.3l-6.0 -5.3z"/>
<path d="M1613.7 557.9l6.0 5.3l-6.0 5.3l-6.0 -5.3z"/>
<path d="M1624.2 498.6l6.0 5.3l-6.0 5.3l-6.0 -5.3z"/>
<path d="M1634.7 540.8l6.0 5.3l-6.0 5.3l-6.0 -5.3z"/>
<path d="M1645.3 537.7l6.0 5.3l-6.0 5.3l-6.0 -5.3z"/>
</g>
<g id="dates">
<text class="dt" transform="translate(14.8 903.0) rotate(45)">3月11日</text>
<text class="dt" transform="translate(50.4 903.0) rotate(45)">4月1日</text>
<text class="dt" transform="translate(78.0 903.0) rotate(45)">4月22日</text>
<text class="dt" transform="translate(109.6 903.0) rotate(45)">5月13日</text>
<text class="dt" transform="translate(145.3 903.0) rotate(45)">6月3日</text>
<text class="dt" transform="translate(172.9 903.0) rotate(45)">6月24日</text>
<text class="dt" transform="translate(204.5 903.0) rotate(45)">7月15日</text>
<text class="dt" transform="translate(240.1 903.0) rotate(45)">8月5日</text>
<text class="dt" transform="translate(267.7 903.0) rotate(45)">8月26日</text>
<text class="dt" transform="translate(299.3 903.0) rotate(45)">9月16日</text>
<text class="dt" transform="translate(330.9 903.0) rotate(45)">10月8日</text>
<text class="dt" transform="translate(362.6 903.0) rotate(45)">10月28日</text>
<text class="dt" transform="translate(394.2 903.0) rotate(45)">11月18日</text>
<text class="dt" transform="translate(425.8 903.0) rotate(45)">12月9日</text>
<text class="dt" transform="translate(457.4 903.0) rotate(45)">12月30 日</text>
<text class="dt" transform="translate(489.0 903.0) rotate(45)">1月20日</text>
<text class="dt" transform="translate(520.6 903.0) rotate(45)">2月10日</text>
<text class="dt" transform="translate(556.2 903.0) rotate(45)">3 月3日</text>
<text class="dt" transform="translate(583.9 903.0) rotate(45)">3月24日</text>
<text class="dt" transform="translate(615.5 903.0) rotate(45)">4月14日</text>
<text class="dt" transform="translate(651.1 903.0) rotate(45)">5月5日</text>
<text class="dt" transform="translate(678.7 903.0) rotate(45)">5月26日</text>
<text class="dt" transform="translate(710.3 903.0) rotate(45)">6月16日</text>
<text class="dt" transform="translate(745.9 903.0) rotate(45)">7月7日</text>
<text class="dt" transform="translate(773.5 903.0) rotate(45)">7月28日</text>
<text class="dt" transform="translate(809.2 903.0) rotate(45)">8月18</text>
<text class="dt" transform="translate(840.8 903.0) rotate(45)">9月8日</text>
<text class="dt" transform="translate(868.4 903.0) rotate(45)">9月28日</text>
<text class="dt" transform="translate(900.0 903.0) rotate(45)">10月27日</text>
<text class="dt" transform="translate(931.6 903.0) rotate(45)">11月17日</text>
<text class="dt" transform="translate(963.2 903.0) rotate(45)">12月8日</text>
<text class="dt" transform="translate(998.8 903.0) rotate(45)">1月5日</text>
<text class="dt" transform="translate(1026.4 903.0) rotate(45)">1月26 日</text>
<text class="dt" transform="translate(1058.1 903.0) rotate(45)">2月23日</text>
<text class="dt" transform="translate(1089.7 903.0) rotate(45)">3月15日</text>
<text class="dt" transform="translate(1121.3 903.0) rotate(45)">4月12日</text>
<text class="dt" transform="translate(1152.9 903.0) rotate(45)">5月10日</text>
<text class="dt" transform="translate(1188.5 903.0) rotate(45)">6月7日</text>
<text class="dt" transform="translate(1216.1 903.0) rotate(45)">6月28日</text>
<text class="dt" transform="translate(1247.7 903.0) rotate(45)">7月19日</text>
<text class="dt" transform="translate(1283.4 903.0) rotate(45)">8月9日</text>
<text class="dt" transform="translate(1311.0 903.0) rotate(45)">8月30日</text>
<text class="dt" transform="translate(1342.6 903.0) rotate(45)">9月20日</text>
<text class="dt" transform="translate(1374.2 903.0) rotate(45)">10月25日</text>
<text class="dt" transform="translate(1405.8 903.0) rotate(45)">11月15日</text>
<text class="dt" transform="translate(1437.4 903.0) rotate(45)">12月6日</text>
<text class="dt" transform="translate(1473.0 903.0) rotate(45)">1月3日</text>
<text class="dt" transform="translate(1500.7 903.0) rotate(45)">1月24日</text>
<text class="dt" transform="translate(1532.3 903.0) rotate(45)">2月21日</text>
<text class="dt" transform="translate(1567.9 903.0) rotate(45)">3月14</text>
<text class="dt" transform="translate(1599.5 903.0) rotate(45)">4月4日</text>
<text class="dt" transform="translate(1616.6 903.0) rotate(45)">4月18日</text>
</g>
</svg>
</body></html>
